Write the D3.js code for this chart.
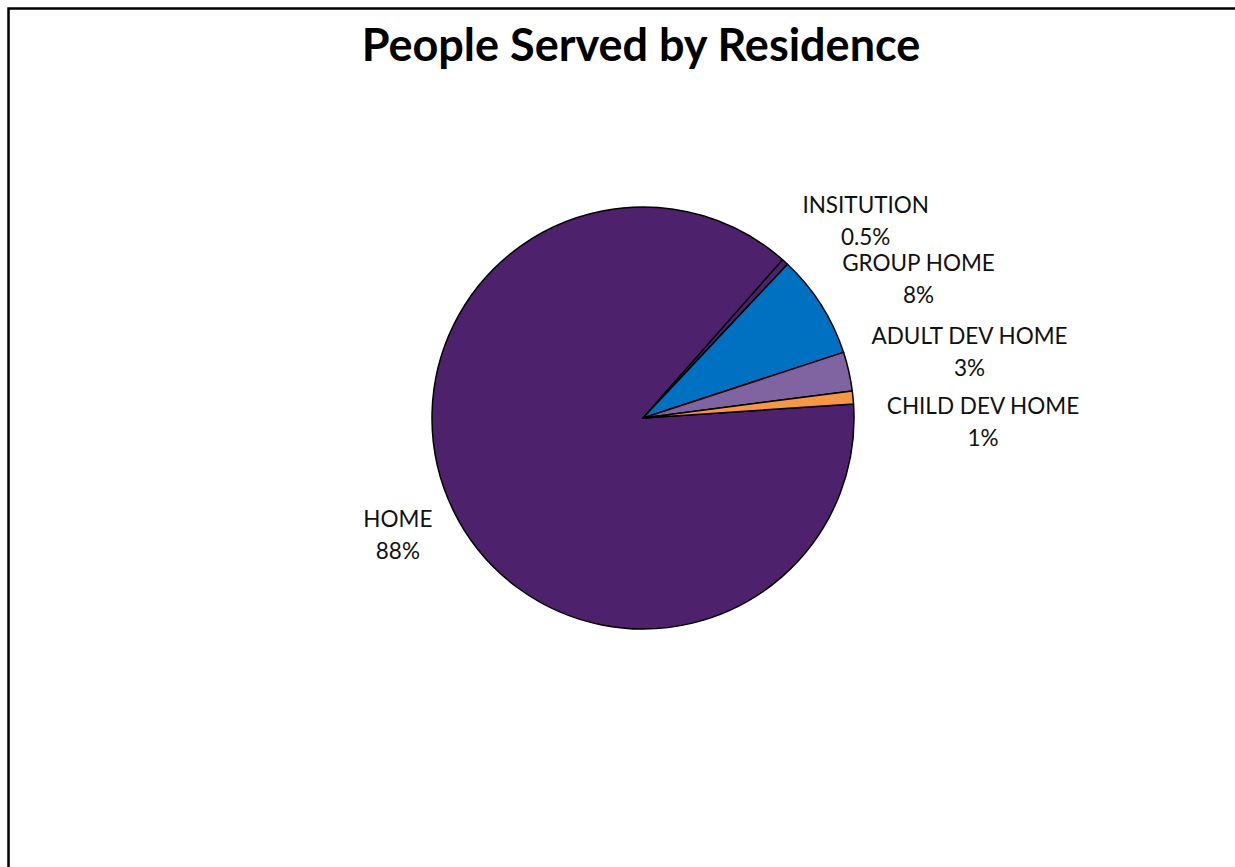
<!DOCTYPE html>
<html>
<head>
<meta charset="utf-8">
<script src="https://cdn.jsdelivr.net/npm/d3@7"></script>
<style>
  html, body { margin: 0; padding: 0; background: #fff; }
  svg { display: block; }
</style>
</head>
<body>
<svg id="chart" width="1235" height="867"></svg>
<script>
const categories = ["HOME", "INSITUTION", "GROUP HOME", "ADULT DEV HOME", "CHILD DEV HOME"];
const values = [88, 0.5, 8, 3, 1];
const valueLabels = ["88%", "0.5%", "8%", "3%", "1%"];
const colors = ["#4E216C", "#4E216C", "#0070C0", "#8064A2", "#F79646"];

const width = 1235, height = 867;
const cx = 643, cy = 418, radius = 211;
const labelRadius = radius * 1.3;
// nudges to match where the label boxes sit
const labelNudge = [[1, -4], [38, 6], [44, 8], [59, -5], [67, 31]];

const svg = d3.select("#chart");

// frame (only top and left edges are visible)
svg.append("rect")
  .attr("x", 8.5).attr("y", 8.5)
  .attr("width", width + 20).attr("height", height + 20)
  .attr("fill", "none")
  .attr("stroke", "#000")
  .attr("stroke-width", 2.5);

svg.append("text")
  .attr("x", 641).attr("y", 61)
  .attr("text-anchor", "middle")
  .style("font-family", "Lato, 'Open Sans', sans-serif")
  .style("font-weight", "bold")
  .style("font-size", "45px")
  .text("People Served by Residence");

const start = 86.2 * Math.PI / 180;
const pie = d3.pie().sort(null).startAngle(start).endAngle(start + 2 * Math.PI);
const arcs = pie(values);

const arc = d3.arc().innerRadius(0).outerRadius(radius);
const labelArc = d3.arc().innerRadius(labelRadius).outerRadius(labelRadius);

const g = svg.append("g").attr("transform", `translate(${cx},${cy})`);

g.selectAll("path.slice")
  .data(arcs)
  .join("path")
  .attr("class", "slice")
  .attr("d", arc)
  .attr("fill", (d, i) => colors[i])
  .attr("stroke", "#000")
  .attr("stroke-width", 1.5)
  .attr("stroke-linejoin", "round");

const labels = g.selectAll("text.lbl")
  .data(arcs)
  .join("text")
  .attr("class", "lbl")
  .attr("text-anchor", "middle")
  .style("font-family", "Lato, 'Open Sans', sans-serif")
  .style("font-size", "22.5px")
  .attr("fill", "#111")
  .attr("transform", (d, i) => {
    const [x, y] = labelArc.centroid(d);
    return `translate(${x + labelNudge[i][0]},${y + labelNudge[i][1]})`;
  });

labels.append("tspan")
  .attr("x", 0).attr("y", -8)
  .text((d, i) => categories[i]);
labels.append("tspan")
  .attr("x", 0).attr("y", 24)
  .text((d, i) => valueLabels[i]);
</script>
</body>
</html>
